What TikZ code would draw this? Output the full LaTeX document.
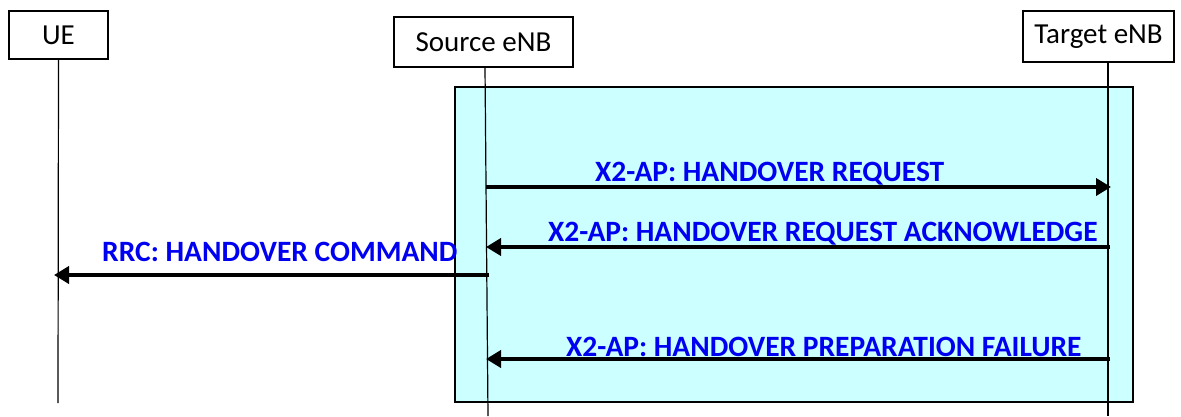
\documentclass[tikz,border=0pt]{standalone}
\usepackage{fontspec}
\setmainfont{Carlito}
\usetikzlibrary{arrows.meta}
\definecolor{boxcyan}{HTML}{CCFFFF}
\definecolor{msgblue}{HTML}{0000F0}
\begin{document}
\begin{tikzpicture}[x=1pt,y=-1pt,
  entity/.style={draw=black,line width=1.4pt,fill=white,inner sep=0pt,font=\fontsize{29}{32}\selectfont},
  life/.style={line width=1.2pt},
  msg/.style={line width=4pt,-{Triangle[length=15pt,width=17pt]}},
  lbl/.style={anchor=base west,inner sep=0pt,text=msgblue,font=\fontsize{29.5}{32}\selectfont\bfseries}]
\useasboundingbox (0,0) rectangle (1181,416);
% region
\node[draw=black,line width=1.8pt,fill=boxcyan,minimum width=678pt,minimum height=315pt,inner sep=0pt] (region) at (794,244.5) {};
% entities
\node[entity,minimum width=99pt,minimum height=48pt] (ue) at (58.5,35) {UE};
\node[entity,minimum width=179pt,minimum height=50pt] (src) at (483.5,42) {Source eNB};
\node[entity,minimum width=151pt,minimum height=51pt] (tgt) at (1098.5,36.5) {Target eNB};
% lifelines
\coordinate (ueEnd) at (58,403);
\coordinate (srcEnd) at (488,416);
\coordinate (tgtEnd) at (1108,416);
\draw[life] (ue.south) -- (ueEnd);
\draw[life] (485,67) -- (srcEnd);
\draw[life] (tgt.south -| tgtEnd) -- (tgtEnd);
% message points
\coordinate (s1) at (486,187); \coordinate (t1) at (1111,187);
\coordinate (t2) at (1110,247); \coordinate (s2) at (486,247);
\coordinate (s3) at (489,275); \coordinate (u3) at (54,275);
\coordinate (t4) at (1110,359); \coordinate (s4) at (486,359);
\draw[msg] (s1) -- (t1);
\draw[msg] (t2) -- (s2);
\draw[msg] (s3) -- (u3);
\draw[msg] (t4) -- (s4);
% labels
\node[lbl] (l1) at (595,181) {X2-AP: HANDOVER REQUEST};
\node[lbl] (l2) at (548,241) {X2-AP: HANDOVER REQUEST ACKNOWLEDGE};
\node[lbl] (l3) at (102,261) {RRC: HANDOVER COMMAND};
\node[lbl] (l4) at (566,356) {X2-AP: HANDOVER PREPARATION FAILURE};
\end{tikzpicture}
\end{document}
